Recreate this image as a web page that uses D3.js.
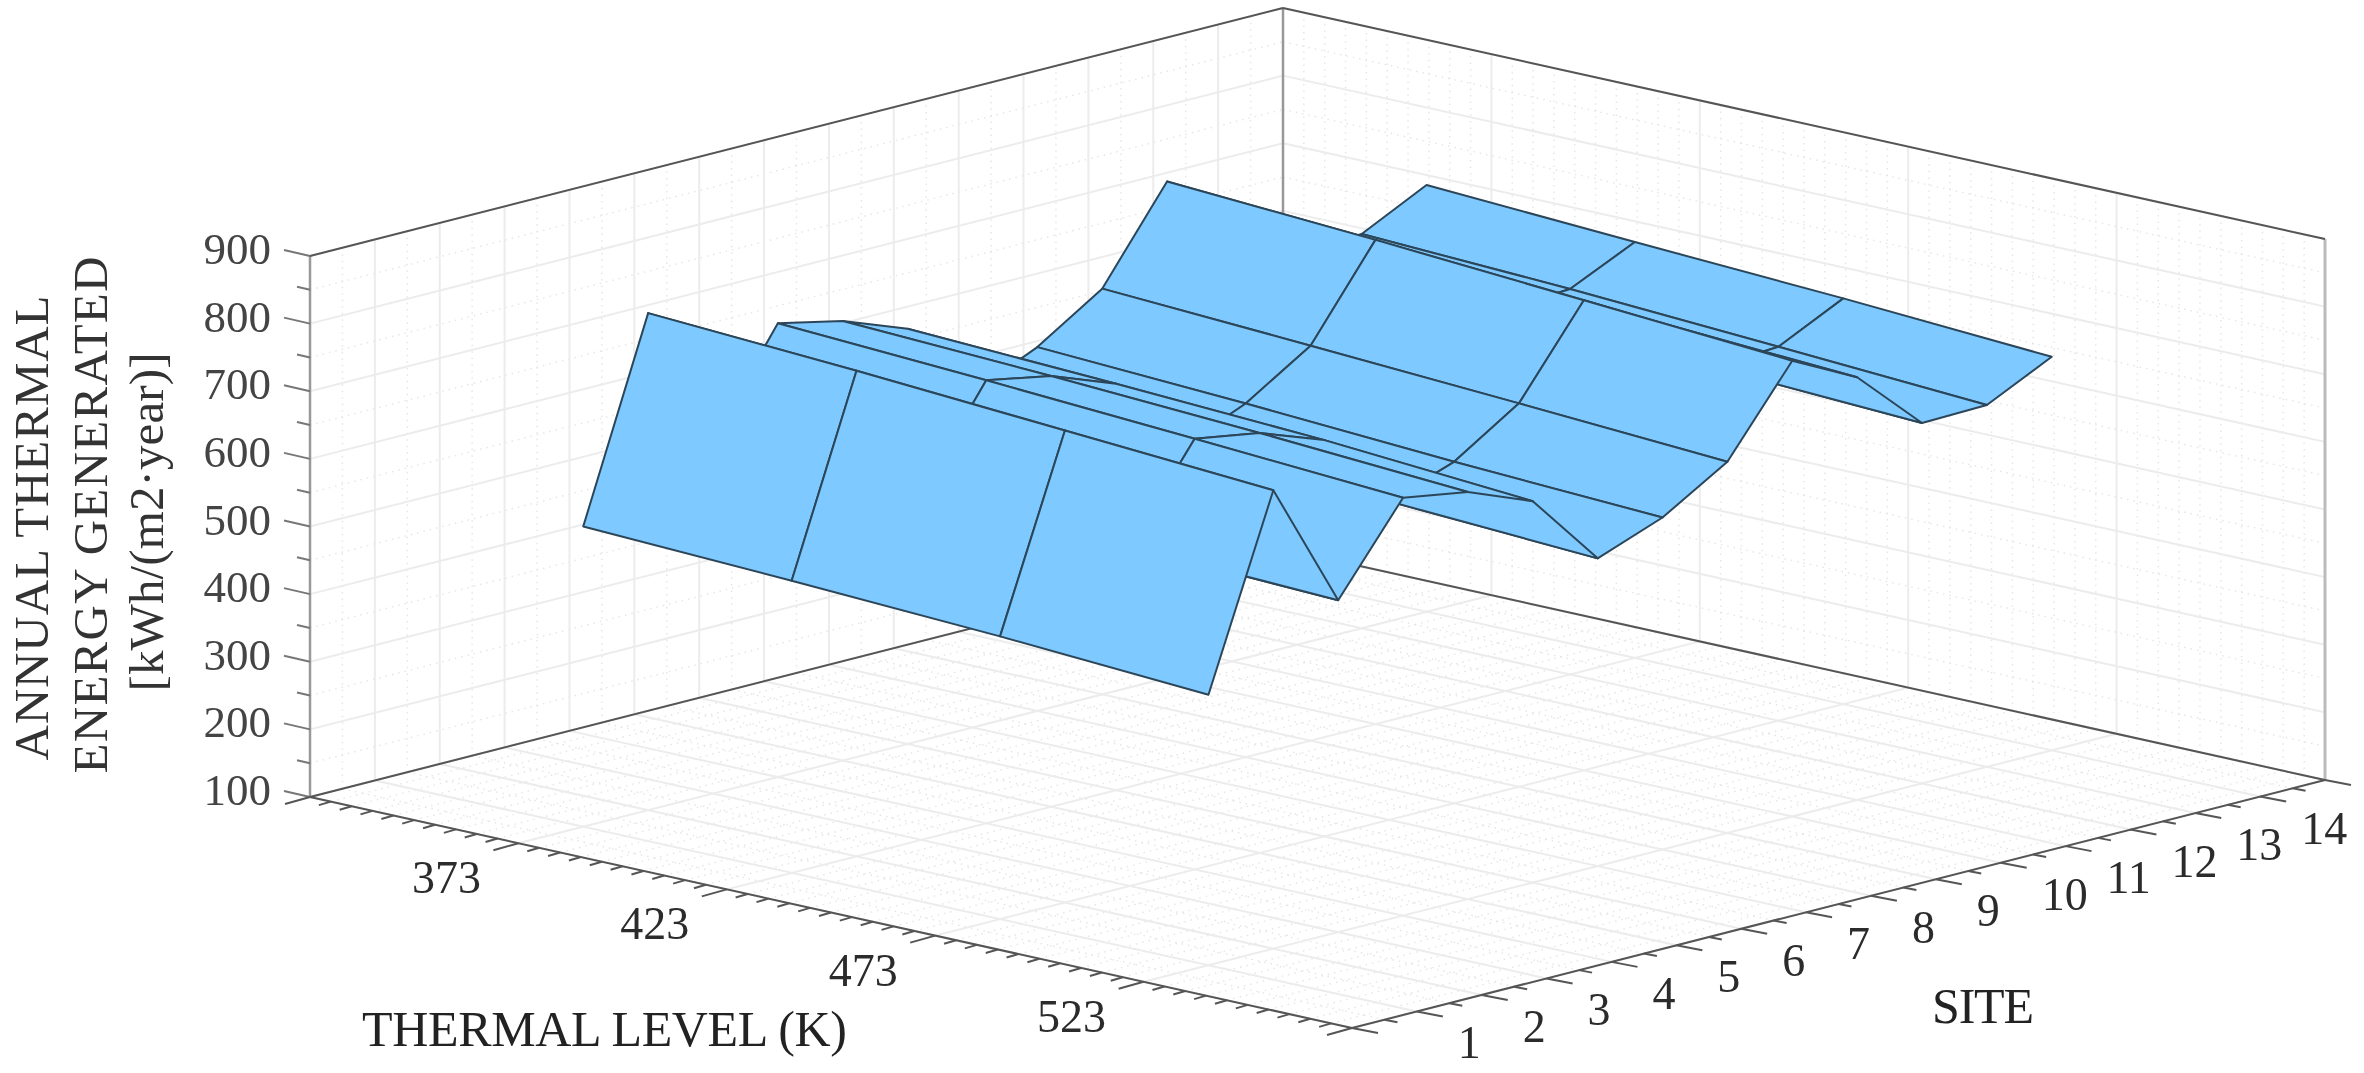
<!DOCTYPE html>
<html>
<head>
<meta charset="utf-8">
<script src="https://cdn.jsdelivr.net/npm/d3@7"></script>
<style>
  html, body { margin: 0; background: #fff; }
  svg { display: block; filter: blur(0.6px); }
  text { font-family: "Liberation Serif", serif; }
</style>
</head>
<body>
<svg width="2364" height="1073"></svg>
<script>
const thermalLevels = [373, 423, 473, 523];
const sites = [1, 2, 3, 4, 5, 6, 7, 8, 9, 10, 11, 12, 13, 14];
const energy373 = [544, 835, 626, 771, 750, 714, 595, 638, 700, 834, 776, 680, 683, 731];
const energy423 = [532, 818, 614, 755, 737, 701, 582, 623, 684, 816, 759, 664, 670, 715];
const energy473 = [518, 798, 602, 737, 721, 686, 571, 605, 667, 795, 742, 647, 653, 700];
const energy523 = [500, 778, 591, 718, 702, 664, 555, 591, 649, 774, 725, 633, 635, 682];
const energyRows = [energy373, energy423, energy473, energy523];

const thermalLabels = [373, 423, 473, 523];
const energyLabels = [100, 200, 300, 400, 500, 600, 700, 800, 900];
const titleLines = ['ANNUAL THERMAL', 'ENERGY GENERATED', '[kWh/(m2·year)]'];

// floor corners in page pixels
const left = [310, 797];
const front = [1352, 1028];
const right = [2325, 780];
const back = [1283, 549];

const tScale = d3.scaleLinear().domain([323, 573]).range([0, 1]);
const sScale = d3.scaleLinear().domain([0, 15]).range([0, 1]);
const zScale = d3.scaleLinear().domain([100, 900]).range([0, -541]);

function project(t, s, z) {
  const u = tScale(t);
  const v = sScale(s);
  const at = i => left[i] * (1 - u) * (1 - v) + front[i] * u * (1 - v)
      + right[i] * u * v + back[i] * (1 - u) * v;
  return [at(0), at(1) + zScale(z)];
}

const svg = d3.select('svg');
const line = d3.line();

const tMajor = d3.range(323, 574, 50);
const tMinor = d3.range(323, 574, 5).filter(t => !tMajor.includes(t));
const sMajor = d3.range(0, 16);
const sMinor = d3.range(0.5, 15, 1);
const zMajor = d3.range(100, 901, 100);
const zMinor = d3.range(150, 900, 100);

function drawLines(parent, segments, stroke, width, dash) {
  parent.append('g')
      .selectAll('path')
      .data(segments)
      .join('path')
      .attr('d', d => line(d))
      .attr('fill', 'none')
      .attr('stroke', stroke)
      .attr('stroke-width', width)
      .attr('stroke-dasharray', dash || null);
}

function gridSegments(ts, ss, zs) {
  const segs = [];
  // floor
  ts.forEach(t => segs.push([project(t, 0, 100), project(t, 15, 100)]));
  ss.forEach(s => segs.push([project(323, s, 100), project(573, s, 100)]));
  // wall at lowest thermal level
  ss.forEach(s => segs.push([project(323, s, 100), project(323, s, 900)]));
  zs.forEach(z => segs.push([project(323, 0, z), project(323, 15, z)]));
  // wall at last site
  ts.forEach(t => segs.push([project(t, 15, 100), project(t, 15, 900)]));
  zs.forEach(z => segs.push([project(323, 15, z), project(573, 15, z)]));
  return segs;
}

const grid = svg.append('g').attr('class', 'grid');
drawLines(grid, gridSegments(tMinor, sMinor, zMinor), '#e6e6e6', 1.5, '1.5 5');
drawLines(grid, gridSegments(tMajor, sMajor, zMajor), '#ececec', 2);

// box
const box = svg.append('g').attr('class', 'box');
drawLines(box, [
  [project(323, 0, 100), project(323, 0, 900)],
  [project(323, 15, 100), project(323, 15, 900)]
], '#999', 2.5);
drawLines(box, [[project(573, 15, 100), project(573, 15, 900)]], '#bbb', 3);
drawLines(box, [
  [project(323, 0, 100), project(323, 15, 100)],
  [project(323, 15, 100), project(573, 15, 100)],
  [project(323, 0, 100), project(573, 0, 100)],
  [project(573, 0, 100), project(573, 15, 100)],
  [project(323, 0, 900), project(323, 15, 900)],
  [project(323, 15, 900), project(573, 15, 900)]
], '#555', 2);

// ticks
function offset(p, dx, dy) {
  return [p, [p[0] + dx, p[1] + dy]];
}
const ticks = svg.append('g').attr('class', 'ticks');
drawLines(ticks, zMajor.map(z => offset(project(323, 0, z), -26, -6)), '#777', 2);
drawLines(ticks, zMinor.map(z => offset(project(323, 0, z), -13, -3)), '#777', 2);
drawLines(ticks, tMajor.map(t => offset(project(t, 0, 100), -25, 7)), '#555', 2);
drawLines(ticks, tMinor.map(t => offset(project(t, 0, 100), -12, 3.5)), '#555', 2);
drawLines(ticks, sMajor.map(s => offset(project(573, s, 100), 26, 5)), '#555', 2);
drawLines(ticks, sMinor.map(s => offset(project(573, s, 100), 13, 2.5)), '#555', 2);

// surface, back cells first so nearer cells cover them
const cells = [];
d3.range(sites.length - 2, -1, -1).forEach(j => {
  d3.range(0, thermalLevels.length - 1).forEach(i => {
    cells.push([
      project(thermalLevels[i], sites[j], energyRows[i][j]),
      project(thermalLevels[i + 1], sites[j], energyRows[i + 1][j]),
      project(thermalLevels[i + 1], sites[j + 1], energyRows[i + 1][j + 1]),
      project(thermalLevels[i], sites[j + 1], energyRows[i][j + 1])
    ]);
  });
});
svg.append('g')
    .attr('class', 'surface')
    .selectAll('path')
    .data(cells)
    .join('path')
    .attr('d', d => line(d) + 'Z')
    .attr('fill', '#7ec9ff')
    .attr('stroke', '#2c4659')
    .attr('stroke-width', 2)
    .attr('stroke-linejoin', 'round');

// labels
svg.append('g')
    .selectAll('text')
    .data(energyLabels)
    .join('text')
    .attr('x', 271)
    .attr('y', d => project(323, 0, d)[1] + 8)
    .attr('text-anchor', 'end')
    .attr('font-size', 45)
    .attr('fill', '#444')
    .text(d => d);

svg.append('g')
    .selectAll('text')
    .data(thermalLabels)
    .join('text')
    .attr('x', d => project(d, 0, 100)[0] - 72)
    .attr('y', d => project(d, 0, 100)[1] + 50)
    .attr('text-anchor', 'middle')
    .attr('font-size', 46)
    .attr('fill', '#2b2b2b')
    .text(d => d);

svg.append('g')
    .selectAll('text')
    .data(sites)
    .join('text')
    .attr('x', d => project(573, d, 100)[0] + 41)
    .attr('y', d => project(573, d, 100)[1] + 47)
    .attr('font-size', 46)
    .attr('fill', '#2b2b2b')
    .text(d => d);

svg.append('text')
    .attr('x', 362)
    .attr('y', 1046)
    .attr('font-size', 50)
    .attr('fill', '#222')
    .attr('textLength', 485)
    .text('THERMAL LEVEL (K)');

svg.append('text')
    .attr('x', 1932)
    .attr('y', 1023)
    .attr('font-size', 50)
    .attr('fill', '#222')
    .attr('textLength', 102)
    .text('SITE');

const titleX = [48, 107, 163];
const titleY = [528, 515, 522];
const titleLength = [465, 517, 339];
svg.append('g')
    .selectAll('text')
    .data(titleLines)
    .join('text')
    .attr('transform', (d, i) => `translate(${titleX[i]}, ${titleY[i]}) rotate(-90)`)
    .attr('text-anchor', 'middle')
    .attr('font-size', 49)
    .attr('fill', '#333')
    .attr('textLength', (d, i) => titleLength[i])
    .text(d => d);
</script>
</body>
</html>
